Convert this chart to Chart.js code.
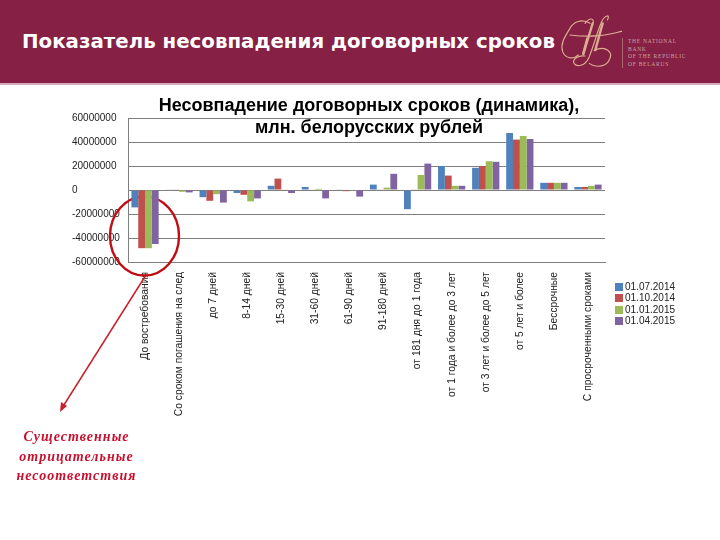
<!DOCTYPE html>
<html lang="ru">

<head>
    <meta charset="UTF-8">
    <title>Показатель несовпадения договорных сроков</title>
    <script src="https://cdn.jsdelivr.net/npm/chart.js"></script>
    <style>
        html, body { margin: 0; padding: 0; background: #fff; }
        #page { position: relative; width: 720px; height: 540px; overflow: hidden; font-family: "Liberation Sans", sans-serif; }
        #myChart { position: absolute; left: 0; top: 0; }
        .banner { position: absolute; left: 0; top: 0; width: 720px; height: 83px; background: #862044; border-bottom: 2px solid #d9a9bd; }
        .banner h1 { position: absolute; left: 22px; top: 30px; margin: 0; font: bold 19.8px "DejaVu Sans", sans-serif; color: #fff; white-space: nowrap; }
        .mono { position: absolute; left: 550px; top: 10px; }
        .bank { position: absolute; left: 622px; top: 38px; padding-left: 5px; border-left: 1px solid #a8696f; font: 5.5px/7.6px "Liberation Serif", serif; color: #c9a3a3; letter-spacing: .75px; white-space: nowrap; }
        .title { position: absolute; left: 130px; top: 94px; width: 478px; text-align: center; font-weight: bold; font-size: 18px; line-height: 22px; color: #000; white-space: nowrap; }
        #legend { position: absolute; left: 615px; top: 281px; font-size: 10px; color: #222; }
        #legend div { height: 11.4px; line-height: 11.4px; white-space: nowrap; }
        #legend i { display: inline-block; width: 8px; height: 8px; margin-right: 2px; vertical-align: -1px; }
        .note { position: absolute; left: 0; top: 427px; width: 153px; text-align: center; font: italic bold 14px/19.7px "Liberation Serif", serif; letter-spacing: 1px; color: #c8102e; }
    </style>
</head>

<body>
    <div id="page">
        <canvas id="myChart" width="720" height="540"></canvas>
        <div class="banner">
            <h1>Показатель несовпадения договорных сроков</h1>
            <svg class="mono" width="72" height="62" viewBox="0 0 216 186" fill="none" stroke="#dcae90" stroke-linecap="round">
                <g stroke-width="3.5">
                    <path d="M60 75 C140 85 180 72 215 64"/>
                    <path d="M120 40 C95 25 70 35 60 55 C45 80 30 100 38 125 C45 145 70 150 85 135"/>
                    <path d="M128 42 C135 25 120 20 105 40"/>
                    <path d="M172 30 C182 14 166 12 155 35 C145 55 135 95 118 140 C105 170 80 172 72 160 C66 148 85 135 105 138"/>
                    <path d="M132 122 C165 105 195 125 175 155 C160 175 130 170 118 160"/>
                </g>
                <g stroke-width="7">
                    <path d="M128 40 L100 132"/>
                    <path d="M112 85 L100 130"/>
                    <path d="M158 40 L136 120"/>
                </g>
            </svg>
            <div class="bank">THE NATIONAL<br>BANK<br>OF THE REPUBLIC<br>OF BELARUS</div>
        </div>
        <div class="title">Несовпадение договорных сроков (динамика),<br>млн. белорусских рублей</div>
        <div id="legend"></div>
        <div class="note">Существенные<br>отрицательные<br>несоответствия</div>
    </div>

    <script>
        var categories = ['До востребования', 'Со сроком погашения на след', 'до 7 дней', '8-14 дней', '15-30 дней',
            '31-60 дней', '61-90 дней', '91-180 дней', 'от 181 дня до 1 года', 'от 1 года и более до 3 лет',
            'от 3 лет и более до 5 лет', 'от 5 лет и более', 'Бессрочные', 'С просроченными сроками'];

        var seriesNames = ['01.07.2014', '01.10.2014', '01.01.2015', '01.04.2015'];
        var seriesColors = ['#4f81bd', '#c0504d', '#9bbb59', '#8064a2'];

        var jul2014 = [-14500000, 500000, -6000000, -2500000, 3500000, 2500000, 300000, 4500000, -16000000, 20000000, 18500000, 47500000, 6000000, 2500000];
        var oct2014 = [-48500000, 300000, -9000000, -4000000, 9500000, 500000, -1000000, 300000, 300000, 12000000, 20000000, 42000000, 6000000, 2500000];
        var jan2015 = [-48500000, -1500000, -3500000, -9500000, 300000, 1000000, -300000, 2000000, 12500000, 3500000, 24000000, 45000000, 6000000, 3500000];
        var apr2015 = [-45000000, -2000000, -10500000, -7000000, -2500000, -7000000, -5500000, 13500000, 22000000, 3500000, 23500000, 42500000, 6000000, 4500000];

        var seriesValues = [jul2014, oct2014, jan2015, apr2015];

        // красный овал под столбцами, стрелка поверх
        var notePlugin = {
            id: 'noteMarks',
            beforeDatasetsDraw: function (chart) {
                var c = chart.ctx;
                c.save();
                c.strokeStyle = '#c00d14';
                c.lineWidth = 2.4;
                c.beginPath();
                c.ellipse(144.5, 236, 34.5, 39.5, 0, 0, Math.PI * 2);
                c.stroke();
                c.restore();
            },
            afterDraw: function (chart) {
                var c = chart.ctx;
                c.save();
                c.strokeStyle = '#c8202a';
                c.lineWidth = 1.5;
                c.beginPath();
                c.moveTo(146, 275);
                c.lineTo(62, 408);
                c.stroke();

                c.fillStyle = '#c8202a';
                c.beginPath();
                c.moveTo(60, 412);
                c.lineTo(61, 402);
                c.lineTo(67, 406);
                c.closePath();
                c.fill();
                c.restore();
            }
        };

        var ctx = document.getElementById('myChart').getContext('2d');
        var myChart = new Chart(ctx, {
            type: 'bar',
            data: {
                labels: categories,
                datasets: seriesNames.map(function (name, i) {
                    return {
                        label: name,
                        data: seriesValues[i],
                        backgroundColor: seriesColors[i],
                        categoryPercentage: 0.8,
                        barPercentage: 1
                    };
                })
            },
            options: {
                responsive: false,
                animation: false,
                layout: { padding: { left: 72, right: 115, top: 118, bottom: 108 } },
                plugins: { legend: { display: false }, title: { display: false }, tooltip: { enabled: false } },
                scales: {
                    x: {
                        afterFit: function (scale) { scale.height = 170; },
                        grid: { display: false, drawTicks: false },
                        border: { color: '#7f7f7f' },
                        ticks: {
                            autoSkip: false,
                            minRotation: 90,
                            maxRotation: 90,
                            padding: 10,
                            color: '#222',
                            font: { family: 'Liberation Sans', size: 10.3 }
                        }
                    },
                    y: {
                        min: -60000000,
                        max: 60000000,
                        afterFit: function (scale) { scale.width = 56; },
                        grid: { color: '#7f7f7f', drawTicks: false },
                        border: { color: '#7f7f7f' },
                        ticks: {
                            stepSize: 20000000,
                            crossAlign: 'far',
                            color: '#222',
                            font: { family: 'Liberation Sans', size: 10 },
                            callback: function (value) { return String(value); }
                        }
                    }
                }
            },
            plugins: [notePlugin]
        });

        var legend = document.getElementById('legend');
        seriesNames.forEach(function (name, i) {
            var row = document.createElement('div');
            var box = document.createElement('i');
            box.style.background = seriesColors[i];
            row.appendChild(box);
            row.appendChild(document.createTextNode(name));
            legend.appendChild(row);
        });
    </script>
</body>

</html>
